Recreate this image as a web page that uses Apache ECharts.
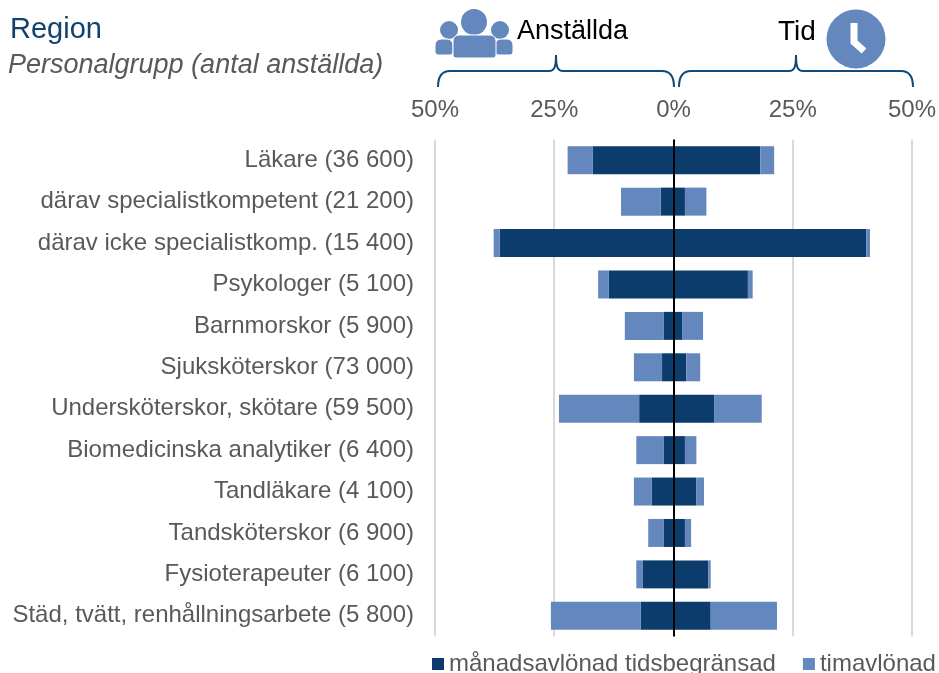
<!DOCTYPE html>
<html><head><meta charset="utf-8">
<script src="https://cdn.jsdelivr.net/npm/echarts@6/dist/echarts.min.js"></script>
<style>html,body{margin:0;padding:0;background:#fff}#c{width:939px;height:673px}</style></head>
<body><div id="c"></div>
<script>
const categories = ['Läkare (36 600)','därav specialistkompetent (21 200)','därav icke specialistkomp. (15 400)','Psykologer (5 100)','Barnmorskor (5 900)','Sjuksköterskor (73 000)','Undersköterskor, skötare (59 500)','Biomedicinska analytiker (6 400)','Tandläkare (4 100)','Tandsköterskor (6 900)','Fysioterapeuter (6 100)','Städ, tvätt, renhållningsarbete (5 800)'];
const anstalldaManad = [16.9,2.7,36.4,13.6,2.1,2.4,7.2,2.1,4.6,2.1,6.4,6.9];
const anstalldaTim = [5.3,8.3,1.3,2.2,8.1,5.9,16.8,5.7,3.7,3.2,1.4,18.8];
const tidManad = [18.2,2.4,40.4,15.6,1.8,2.7,8.6,2.4,4.8,2.4,7.3,7.8];
const tidTim = [2.9,4.5,0.8,1.0,4.4,2.9,9.9,2.4,1.6,1.3,0.5,13.9];
const nameManad = 'månadsavlönad tidsbegränsad';
const nameTim = 'timavlönad';
const DARK = '#0b3c6c', LIGHT = '#6488bd', NAVY = '#0f4a78';
const neg = a => a.map(v => -v);
const bar = (name, data, color, extra) => Object.assign({name, type:'bar', stack:'s', data, barWidth:28, itemStyle:{color}, silent:true, z:2}, extra||{});
const ln = {fill:null, stroke:NAVY, lineWidth:2};
const bez = (x1,y1,cpx1,cpy1,cpx2,cpy2,x2,y2) => ({type:'bezierCurve', z:5, shape:{x1,y1,cpx1,cpy1,cpx2,cpy2,x2,y2}, style:ln});
const seg = (x1,y1,x2,y2) => ({type:'line', z:5, shape:{x1,y1,x2,y2}, style:ln});
const bracket = (x0, xm, x1) => [
  bez(x0,87, x0,76, x0+4,71, x0+12,71),
  seg(x0+12,71, xm-7,71),
  bez(xm-7,71, xm-2,71, xm,68, xm,55),
  bez(xm,55, xm,68, xm+2,71, xm+7,71),
  seg(xm+7,71, x1-12,71),
  bez(x1-12,71, x1-4,71, x1,76, x1,87)
];
const person = (cx, cy, r, x, y, w, h) => [
  {type:'circle', shape:{cx, cy, r}, style:{fill:LIGHT}},
  {type:'rect', shape:{x, y, width:w, height:h, r:[6,6,3,3]}, style:{fill:LIGHT, stroke:'#fff', lineWidth:1}}
];
const txt = (x,y,text,fill,fontSize,extra) => ({type:'text', x, y, style:Object.assign({text, fill, fontSize, fontFamily:'Liberation Sans', textVerticalAlign:'top'}, extra||{})});
const chart = echarts.init(document.getElementById('c'));
chart.setOption({
  animation:false,
  textStyle:{fontFamily:'Liberation Sans'},
  grid:{left:435, right:24, top:139.5, height:497},
  xAxis:{type:'value', position:'top', min:-50, max:50, interval:25,
    axisLine:{show:false}, axisTick:{show:false},
    splitLine:{lineStyle:{color:'#d9d9d9', width:2}},
    axisLabel:{color:'#595959', fontSize:24, margin:17, formatter:v=>Math.abs(v)+'%'}},
  yAxis:{type:'category', inverse:true, data:categories,
    axisLine:{show:false}, axisTick:{show:false},
    axisLabel:{color:'#595959', fontSize:24, interval:0, margin:21}},
  legend:{show:true, left:427, top:647, width:512, itemWidth:12, itemHeight:12, itemGap:27, icon:'rect',
    data:[nameManad,nameTim], textStyle:{color:'#595959', fontSize:24}},
  series:[
    bar(nameManad, neg(anstalldaManad), DARK),
    bar(nameTim, neg(anstalldaTim), LIGHT),
    bar(nameManad, tidManad, DARK, {markLine:{silent:true, symbol:'none', label:{show:false}, z:6, animation:false,
      lineStyle:{color:'#000', width:2, type:'solid'}, data:[{xAxis:0}]}}),
    bar(nameTim, tidTim, LIGHT)
  ],
  graphic:[
    txt(10,15,'Region','#12426f',29),
    txt(8,52,'Personalgrupp (antal anställda)','#595959',27,{fontStyle:'italic'}),
    txt(517,18,'Anställda','#000',27),
    txt(778,18,'Tid','#000',28),
    ...person(449,30,9,435,39,18,16),
    ...person(500,30,9,495,39,18,16),
    ...person(474,22,13,453,35,43,23),
    {type:'circle', shape:{cx:856, cy:39, r:29.5}, style:{fill:LIGHT}},
    {type:'polyline', z:5, shape:{points:[[854,23],[854,42],[864,51]]}, style:{fill:null, stroke:'#fff', lineWidth:7}},
    ...bracket(438,556,674), ...bracket(679,796,913)
  ]
});
</script></body></html>
